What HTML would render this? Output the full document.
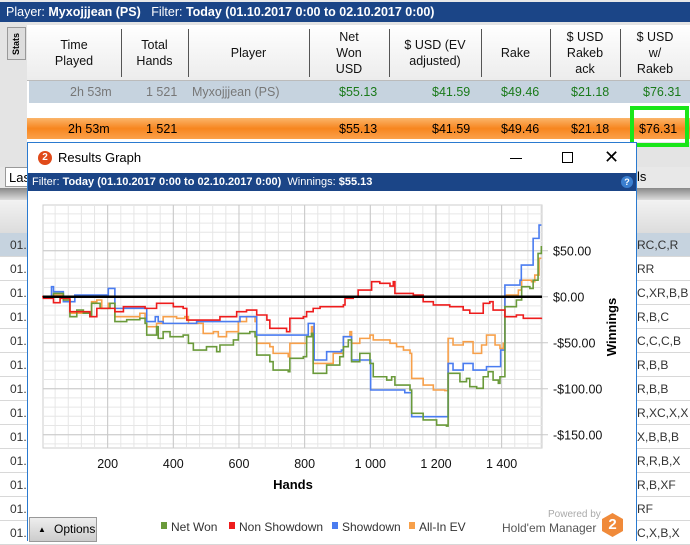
<!DOCTYPE html>
<html><head><meta charset="utf-8">
<style>
body{margin:0;width:690px;height:541px;overflow:hidden;background:#e8e8e8;font-family:"Liberation Sans",sans-serif;position:relative}
div{position:absolute;box-sizing:border-box}
.t{white-space:nowrap;font-size:12px}
.hc{text-align:center;font-size:12.5px;line-height:16px;color:#111;top:0;display:flex;align-items:center;justify-content:center;height:55px}
.r1{font-size:12.5px;top:83px;line-height:18px}
.r3{font-size:12.5px;top:120px;line-height:18px}
.bgrow{left:0;width:690px;height:24px;border-bottom:1px solid #d8d8d8;background:#fff;overflow:hidden}
.bgt{font-size:12px;color:#333;top:5px}
</style></head><body>
<div style="left:0;top:2px;width:690px;height:20px;background:#1b4587;color:#fff;font-size:12.5px;line-height:20px;padding-left:6px" class="t">Player: <b>Myxojjjean (PS)</b>&nbsp;&nbsp; Filter: <b>Today (01.10.2017 0:00 to 02.10.2017 0:00)</b></div>
<div style="left:0;top:22px;width:690px;height:145px;background:#e4e4e4"></div>
<div style="left:7px;top:27px;width:19px;height:33px;background:#ddd;border:1px solid #999;font-size:9px;font-weight:bold;writing-mode:vertical-rl;transform:rotate(180deg);text-align:center;line-height:17px">Stats</div>
<div style="left:27px;top:25px;width:663px;height:117px;background:#fff">
 <div style="left:0;top:0;width:663px;height:56px;background:linear-gradient(#fff,#ececec);border-bottom:1px solid #bbb"></div>
 <div class="hc" style="left:0;width:94px">Time<br>Played</div>
 <div class="hc" style="left:94px;width:67px">Total<br>Hands</div>
 <div class="hc" style="left:161px;width:121px">Player</div>
 <div class="hc" style="left:282px;width:80px">Net<br>Won<br>USD</div>
 <div class="hc" style="left:362px;width:92px">$ USD (EV<br>adjusted)</div>
 <div class="hc" style="left:454px;width:69px">Rake</div>
 <div class="hc" style="left:523px;width:70px">$ USD<br>Rakeb<br>ack</div>
 <div class="hc" style="left:593px;width:70px">$ USD<br>w/<br>Rakeb</div>
 <div style="left:94px;top:4px;width:1px;height:48px;background:#555"></div>
 <div style="left:161px;top:4px;width:1px;height:48px;background:#555"></div>
 <div style="left:282px;top:4px;width:1px;height:48px;background:#555"></div>
 <div style="left:362px;top:4px;width:1px;height:48px;background:#555"></div>
 <div style="left:454px;top:4px;width:1px;height:48px;background:#555"></div>
 <div style="left:523px;top:4px;width:1px;height:48px;background:#555"></div>
 <div style="left:593px;top:4px;width:1px;height:48px;background:#555"></div>
</div>
<div style="left:29px;top:81px;width:661px;height:22px;background:#c6d3df"></div>
<div style="left:27px;top:118px;width:663px;height:21px;background:linear-gradient(#fbb56a,#f7861f 50%,#fba14a)"></div>
<div class="t r1" style="left:70px;color:#777">2h 53m</div>
<div class="t r1" style="left:146px;color:#777">1 521</div>
<div class="t r1" style="left:192px;color:#777">Myxojjjean (PS)</div>
<div class="t r1" style="left:339px;color:#1a7a1a">$55.13</div>
<div class="t r1" style="left:432px;color:#1a7a1a">$41.59</div>
<div class="t r1" style="left:501px;color:#1a7a1a">$49.46</div>
<div class="t r1" style="left:571px;color:#1a7a1a">$21.18</div>
<div class="t r1" style="left:643px;color:#1a7a1a">$76.31</div>
<div class="t r3" style="left:68px">2h 53m</div>
<div class="t r3" style="left:146px">1 521</div>
<div class="t r3" style="left:339px">$55.13</div>
<div class="t r3" style="left:432px">$41.59</div>
<div class="t r3" style="left:501px">$49.46</div>
<div class="t r3" style="left:571px">$21.18</div>
<div class="t r3" style="left:639px">$76.31</div>
<div style="left:630px;top:106px;width:59px;height:41px;border:4px solid #19e619"></div>
<div style="left:5px;top:167px;width:30px;height:20px;background:#fff;border:1px solid #999;font-size:13px;padding:2px 3px" class="t">Las</div>
<div class="t" style="left:637px;top:169px;font-size:13px">ls</div>
<div style="left:0;top:188px;width:690px;height:12px;background:linear-gradient(#888,#ddd)"></div>
<div style="left:0;top:200px;width:690px;height:33px;background:linear-gradient(#f2f2f2,#dcdcdc)"></div>
<div id="bgrows" style="left:0;top:233px;width:690px;height:308px"></div>

<div style="left:27px;top:142px;width:610px;height:399px;background:#fff;border:1px solid #2a7ad0;border-bottom:none">
 <div style="left:10px;top:8px;width:14px;height:14px;border-radius:50%;background:#e04a1a;color:#fff;font-size:10px;font-weight:bold;text-align:center;line-height:14px">2</div>
 <div class="t" style="left:30px;top:7px;font-size:13px">Results Graph</div>
 <div style="left:482px;top:15px;width:12px;height:1px;background:#000"></div>
 <div style="left:534px;top:9px;width:11px;height:11px;border:1px solid #000"></div>
 <div style="left:576px;top:4px;font-size:18px;line-height:20px">✕</div>
 <div class="t" style="left:0;top:30px;width:608px;height:18px;background:#1b4587;color:#fff;font-size:11px;line-height:18px;padding-left:4px">Filter: <b>Today (01.10.2017 0:00 to 02.10.2017 0:00)</b>&nbsp; Winnings: <b>$55.13</b></div>
 <div style="left:593px;top:33px;width:12px;height:12px;border-radius:50%;background:#3a7fd0;color:#fff;font-size:9px;font-weight:bold;text-align:center;line-height:12px">?</div>
 <div class="t" style="left:1px;top:374px;width:68px;height:25px;background:linear-gradient(#eee,#ccc);border:1px solid #999;font-size:12px;line-height:23px;padding-left:24px">Options<span style="position:absolute;left:8px;top:0;font-size:8px">▲</span></div>
 <div class="t" style="left:520px;top:366px;font-size:10px;color:#aaa">Powered by</div>
 <div class="t" style="left:474px;top:378px;font-size:12px;color:#555">Hold'em Manager</div>
 <div style="left:574px;top:370px;width:21px;height:24px;background:#f08a3a;clip-path:polygon(50% 0,100% 25%,100% 75%,50% 100%,0 75%,0 25%);color:#fff;font-weight:bold;font-size:15px;text-align:center;line-height:24px">2</div>
</div>

<svg id="chart" width="690" height="541" style="position:absolute;left:0;top:0" font-family="Liberation Sans, sans-serif"></svg>

<script>
const seriesNames=["Net Won","Non Showdown","Showdown","All-In EV"];
const seriesColors=["#6a9a3a","#ee1c1c","#4a7cf0","#f7a04a"];
const xTicks=[200,400,600,800,1000,1200,1400];
const xTickLabels=["200","400","600","800","1 000","1 200","1 400"];
const yTicks=[50,0,-50,-100,-150];
const yTickLabels=["$50.00","$0.00","-$50.00","-$100.00","-$150.00"];
const netWonHands=[0,4,35,65,85,106,126,146,151,177,207,222,258,298,314,319,349,354,369,390,430,446,461,501,532,542,583,598,633,649,654,694,704,750,755,796,806,821,826,857,867,907,918,933,943,968,999,1009,1050,1065,1075,1121,1126,1161,1202,1232,1237,1273,1293,1303,1324,1344,1359,1374,1390,1395,1410,1445,1461,1486,1496,1511,1521];
const netWonValues=[0,-0.7,3.6,-3.6,-21.7,-14.5,-18,-21.7,-7.2,-12.7,-7.2,-27,-25,-23.5,-29,-41.7,-32.6,-45.3,-38,-43.5,-41.7,-50.7,-58,-54.3,-59.8,-52.5,-47,-39.9,-38,-43.5,-63.4,-70.6,-79.7,-81.5,-67,-65.2,-43.5,-39.9,-83.3,-83.3,-74.3,-65.2,-54.3,-47,-70.6,-61.6,-72.5,-87,-90.6,-87,-96,-101.4,-126.8,-134,-139.5,-140.6,-83.3,-92.4,-88.8,-97.8,-99.6,-87,-81.5,-90.6,-94.2,-87,-10.9,-3.6,10.9,9,18,47,55.1];
const nonShowdownHands=[0,4,35,55,85,146,167,222,248,314,349,400,430,441,491,532,542,593,623,654,685,694,745,755,796,806,826,847,918,923,948,963,999,1004,1029,1060,1070,1075,1131,1161,1192,1242,1283,1303,1334,1344,1364,1374,1410,1445,1466,1521];
const nonShowdownValues=[0,-1.8,-6.5,-1.8,-16.3,-21.7,-12.7,-16.3,-10.9,-12.7,-7.2,-10.9,-12.7,-25.4,-25.4,-25.4,-21.7,-16.3,-14.5,-19.9,-25.4,-34.4,-38,-23.5,-21.7,-16.3,-12.7,-10.9,-9,-1.8,0,7.2,7.2,16.3,14.5,11.6,16.3,3.6,1.8,-5.4,-9,-10.9,-14.5,-18,-18,-7.2,-5.4,-14.5,-21.7,-19.9,-23.5,-22.8];
const showdownHands=[0,4,29,35,65,100,197,202,207,222,314,319,345,354,369,461,471,598,603,654,806,811,826,829,857,867,912,918,938,943,989,1001,1080,1105,1126,1232,1237,1252,1283,1313,1354,1390,1397,1410,1456,1460,1491,1496,1511,1514,1521];
const showdownValues=[0,0,10.9,5.4,-5.4,1.8,1.8,9,9,-12.7,-12.7,-27,-21.7,-27,-29,-29,-27,-27,-21.7,-41.7,-41.7,-29,-29,-68.8,-68.8,-59.8,-58,-43.5,-43.5,-68.8,-68.8,-101.4,-101.4,-104.3,-130.4,-130.4,-72.5,-79.7,-72.5,-79.7,-76,-76,-58,12.7,18,34.4,34.4,63.4,63.4,77.9,77.9];
const allInHands=[0,4,35,65,85,146,151,167,182,202,222,268,298,314,319,349,369,410,435,446,471,491,522,537,562,598,623,649,654,694,704,750,755,796,806,821,826,857,887,918,938,943,968,999,1009,1060,1080,1101,1121,1126,1161,1192,1227,1237,1252,1283,1313,1339,1354,1380,1395,1405,1410,1451,1461,1491,1501,1514,1521];
const allInValues=[0,-0.7,1.8,-3.6,-18,-20,-5.4,-3.6,-12.7,-7.2,-21.7,-21.7,-18,-23.5,-32.6,-29,-21.7,-23.5,-21.7,-29,-29,-39.9,-38,-43.5,-38,-27,-21.7,-27,-50.7,-54.3,-61.6,-65.2,-50.7,-50.7,-43.5,-32.6,-72.5,-72.5,-61.6,-43.5,-38,-50.7,-45.3,-41.7,-47,-50.7,-54.3,-58,-61.6,-88.8,-96,-101.4,-102,-45.3,-52.5,-48.9,-61.6,-52.5,-41.7,-52.5,-56.2,-50.7,1.8,7.2,18,16.3,23.5,41.7,41.7];
const bgRowTexts=["RC,C,R","RR","C,XR,B,B","R,B,C","C,C,C,B","R,B,B","R,B,B","R,XC,X,X","X,B,B,B","R,R,B,X","R,B,XF","RF","C,X,B,X"];

const NS="http://www.w3.org/2000/svg";
const svg=document.getElementById('chart');
const PL=43,PR=542,PT=205,PB=448;
const X=h=>42+h*0.3283;
const Y=v=>296.7-v*0.92;
function mk(tag,attrs,parent){const e=document.createElementNS(NS,tag);for(const k in attrs)e.setAttribute(k,attrs[k]);(parent||svg).appendChild(e);return e;}

const bg=document.getElementById('bgrows');
bgRowTexts.forEach((t,i)=>{
  const r=document.createElement('div');
  
  
  r.className='bgrow';r.style.top=(i*24)+'px';
  if(i===0)r.style.background='#c6d3df';
  r.innerHTML='<div class="t bgt" style="left:10px">01.</div><div class="t bgt" style="left:637px">'+t+'</div>';
  bg.appendChild(r);
});

const plot=mk('rect',{x:PL,y:PT,width:PR-PL,height:PB-PT,fill:'#fff',stroke:'#ccc'});


for(let h=40;h<=1520;h+=40){const l=mk('line',{x1:X(h),x2:X(h),y1:PT,y2:PB,stroke:'#e6e6e6'});}
for(let v=90;v>=-160;v-=10){const l=mk('line',{x1:PL,x2:PR,y1:Y(v),y2:Y(v),stroke:'#e6e6e6'});}
xTicks.forEach((h,i)=>{
  const l=mk('line',{x1:X(h),x2:X(h),y1:PT,y2:PB,stroke:'#c8c8c8'});
  
  
  const t=mk('text',{x:X(h),y:468,'text-anchor':'middle','font-size':12.5,fill:'#111'});
  t.textContent=xTickLabels[i];
  
  
});
yTicks.forEach((v,i)=>{
  const l=mk('line',{x1:PL,x2:PR+6,y1:Y(v),y2:Y(v),stroke:'#c8c8c8'});
  
  
  const t=mk('text',{x:553,y:Y(v)+5,'font-size':12.5,fill:'#111'});
  t.textContent=yTickLabels[i];
  
  
});
const xt=mk('text',{x:293,y:489,'text-anchor':'middle','font-size':13,'font-weight':'bold'});
xt.textContent='Hands';


const yt=mk('text',{x:0,y:0,'text-anchor':'middle','font-size':13,'font-weight':'bold',transform:'translate(616,327) rotate(-90)'});
yt.textContent='Winnings';



const all=[[netWonHands,netWonValues],[nonShowdownHands,nonShowdownValues],[showdownHands,showdownValues],[allInHands,allInValues]];
const drawOrder=[3,2,0,1];
drawOrder.forEach(s=>{
  const [hs,vs]=all[s];
  let d='M'+X(hs[0])+','+Y(vs[0]);
  for(let i=1;i<hs.length;i++){d+=' L'+X(hs[i])+','+Y(vs[i-1])+' L'+X(hs[i])+','+Y(vs[i]);}
  const p=mk('path',{d:d,fill:'none',stroke:seriesColors[s],'stroke-width':1.6});
  
  
});
const zl=mk('line',{x1:PL,x2:PR,y1:Y(0),y2:Y(0),stroke:'#000','stroke-width':2.5});



const legX=[161,229,332,409];
seriesNames.forEach((n,i)=>{
  const g=mk('g',{});
  
  
  mk('rect',{x:legX[i],y:522,width:6,height:7,fill:seriesColors[i]},g);
  const t=mk('text',{x:legX[i]+10,y:531,'font-size':12,fill:'#333'},g);
  t.textContent=n;
});
</script>
</body></html>
